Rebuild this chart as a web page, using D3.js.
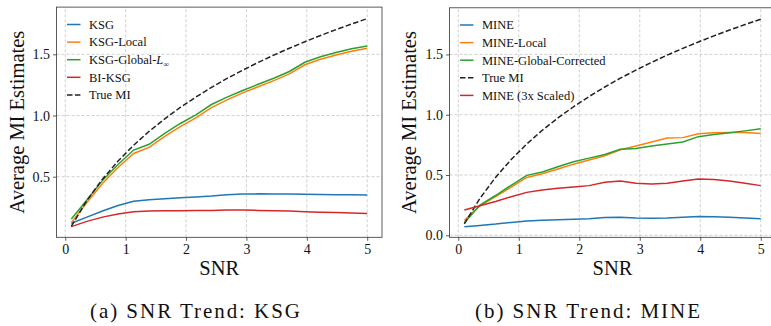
<!DOCTYPE html>
<html><head><meta charset="utf-8">
<script src="https://cdn.jsdelivr.net/npm/d3@7"></script>
<style>
html,body{margin:0;padding:0;background:#fff;}
svg{display:block;}
</style></head>
<body>
<svg id="chart" width="771" height="326"></svg>
<script>
// ---- data ----
const snr = [0.1, 0.358, 0.616, 0.874, 1.132, 1.389, 1.647, 1.905, 2.163, 2.421, 2.679, 2.937, 3.195, 3.453, 3.711, 3.968, 4.226, 4.484, 4.742, 5.0];
const trueMI = [0.095, 0.306, 0.480, 0.628, 0.757, 0.871, 0.973, 1.066, 1.151, 1.230, 1.303, 1.370, 1.434, 1.494, 1.550, 1.603, 1.654, 1.702, 1.748, 1.792];

const ksg = [0.12, 0.17, 0.22, 0.265, 0.30, 0.312, 0.32, 0.328, 0.335, 0.342, 0.352, 0.358, 0.36, 0.358, 0.358, 0.356, 0.355, 0.353, 0.352, 0.35];
const ksgLocal = [0.125, 0.29, 0.445, 0.575, 0.69, 0.74, 0.83, 0.91, 0.98, 1.065, 1.128, 1.185, 1.235, 1.285, 1.34, 1.415, 1.46, 1.495, 1.525, 1.55];
const ksgGlobal = [0.155, 0.31, 0.47, 0.60, 0.718, 0.765, 0.855, 0.935, 1.005, 1.09, 1.15, 1.205, 1.255, 1.305, 1.36, 1.435, 1.48, 1.515, 1.545, 1.568];
const biKsg = [0.092, 0.135, 0.17, 0.195, 0.213, 0.22, 0.222, 0.222, 0.223, 0.225, 0.228, 0.228, 0.225, 0.222, 0.22, 0.214, 0.21, 0.207, 0.204, 0.20];

const mine = [0.07, 0.082, 0.093, 0.107, 0.119, 0.125, 0.13, 0.133, 0.137, 0.147, 0.15, 0.144, 0.142, 0.144, 0.15, 0.156, 0.154, 0.15, 0.144, 0.137];
const mineLocal = [0.125, 0.245, 0.32, 0.40, 0.48, 0.51, 0.55, 0.59, 0.625, 0.66, 0.71, 0.74, 0.774, 0.807, 0.81, 0.842, 0.85, 0.853, 0.853, 0.845];
const mineGlobal = [0.105, 0.25, 0.33, 0.415, 0.497, 0.525, 0.569, 0.61, 0.64, 0.67, 0.713, 0.72, 0.74, 0.757, 0.774, 0.818, 0.835, 0.85, 0.866, 0.884];
const mineScaled = [0.21, 0.245, 0.28, 0.32, 0.356, 0.375, 0.39, 0.40, 0.412, 0.44, 0.45, 0.432, 0.425, 0.432, 0.45, 0.467, 0.463, 0.45, 0.432, 0.412];

const xTicks = [0, 1, 2, 3, 4, 5];
const yTicksA = [0.5, 1.0, 1.5];
const yTicksB = [0.0, 0.5, 1.0, 1.5];
const xLabel = "SNR";
const yLabel = "Average MI Estimates";

const C = {blue:"#1f77b4", orange:"#ff7f0e", green:"#2ca02c", red:"#d62728", black:"#222"};
const FONT = "'Liberation Serif'";

const svg = d3.select("#chart");

function panel(cfg){
  const x = d3.scaleLinear().domain([-0.145, 5.245]).range(cfg.xr);
  const y = d3.scaleLinear().domain(cfg.yd).range([237.3, cfg.top]);
  const g = svg.append("g");
  const [x0,x1] = cfg.xr, y0 = 237.3, y1 = cfg.top;
  // grid
  g.selectAll(".gx").data(xTicks).join("line")
    .attr("x1",d=>x(d)).attr("x2",d=>x(d)).attr("y1",y0).attr("y2",y1)
    .attr("stroke","#c4c4c4").attr("stroke-width",0.8).attr("stroke-dasharray","3,2");
  g.selectAll(".gy").data(cfg.yt).join("line")
    .attr("x1",x0).attr("x2",x1).attr("y1",d=>y(d)).attr("y2",d=>y(d))
    .attr("stroke","#c4c4c4").attr("stroke-width",0.8).attr("stroke-dasharray","3,2");
  // axes
  const xa = d3.axisBottom(x).tickValues(xTicks).tickFormat(d3.format("d")).tickSize(3.5).tickPadding(3);
  const ya = d3.axisLeft(y).tickValues(cfg.yt).tickFormat(d3.format(".1f")).tickSize(3.5).tickPadding(3);
  const gx = g.append("g").attr("transform",`translate(0,${y0})`).call(xa);
  const gy = g.append("g").attr("transform",`translate(${x0},0)`).call(ya);
  [gx,gy].forEach(a=>{
    a.attr("font-family",FONT).attr("font-size",14);
    a.select(".domain").remove();
    a.selectAll(".tick line").attr("stroke","#333").attr("stroke-width",0.8);
    a.selectAll(".tick text").attr("fill","#111").attr("font-family",FONT).attr("font-size",14);
  });
  // lines
  const line = d3.line().x((d,i)=>x(snr[i])).y(d=>y(d));
  cfg.series.forEach(s=>{
    g.append("path").datum(s.v).attr("d",line).attr("fill","none")
      .attr("stroke",s.c).attr("stroke-width",1.5)
      .attr("stroke-dasharray",s.dash?"5.5,2.4":null);
  });
  // frame
  g.append("rect").attr("x",x0).attr("y",y1).attr("width",x1-x0).attr("height",y0-y1)
    .attr("fill","none").attr("stroke","#333").attr("stroke-width",0.8);
  // legend
  cfg.legend.forEach((s,i)=>{
    const ly = cfg.ly + i*cfg.ls;
    g.append("line").attr("x1",cfg.lx).attr("x2",cfg.lx+13.5).attr("y1",ly).attr("y2",ly)
      .attr("stroke",s.c).attr("stroke-width",1.5).attr("stroke-dasharray",s.dash?"5.5,2.4":null);
    const t = g.append("text").attr("x",cfg.lx+22).attr("y",ly+4.3)
      .attr("font-family",FONT).attr("font-size",12.5).attr("fill","#111");
    if(s.sub){
      t.append("tspan").text(s.n);
      t.append("tspan").attr("font-style","italic").text("L");
      t.append("tspan").attr("dy",2.5).attr("font-size",8).text("∞");
    } else t.text(s.n);
  });
  // labels
  g.append("text").attr("x",(x0+x1)/2).attr("y",275).attr("text-anchor","middle")
    .attr("font-family",FONT).attr("font-size",20.5).attr("fill","#111").text(xLabel);
  g.append("text").attr("transform",`translate(${cfg.ylx},${(y0+y1)/2}) rotate(-90)`)
    .attr("text-anchor","middle").attr("font-family",FONT).attr("font-size",20.5)
    .attr("fill","#111").text(yLabel);
  g.append("text").attr("x",cfg.cx).attr("y",318).attr("text-anchor","middle")
    .attr("textLength",cfg.cw).attr("lengthAdjust","spacing")
    .attr("font-family",FONT).attr("font-size",21).attr("fill","#111").text(cfg.caption);
}

panel({
  xr:[56.5,382.0], yd:[0.005,1.886], top:7.1, yt:yTicksA, ylx:24, cx:195, cw:210,
  caption:"(a) SNR Trend: KSG",
  series:[{v:ksg,c:C.blue},{v:ksgLocal,c:C.orange},{v:ksgGlobal,c:C.green},{v:biKsg,c:C.red},{v:trueMI,c:C.black,dash:true}],
  legend:[{n:"KSG",c:C.blue},{n:"KSG-Local",c:C.orange},{n:"KSG-Global-",c:C.green,sub:true},{n:"BI-KSG",c:C.red},{n:"True MI",c:C.black,dash:true}],
  lx:67, ly:24.5, ls:17.6
});
panel({
  xr:[449.5,775.6], yd:[-0.0165,1.8865], top:7.8, yt:yTicksB, ylx:416, cx:587.5, cw:225,
  caption:"(b) SNR Trend: MINE",
  series:[{v:mine,c:C.blue},{v:mineLocal,c:C.orange},{v:mineGlobal,c:C.green},{v:trueMI,c:C.black,dash:true},{v:mineScaled,c:C.red}],
  legend:[{n:"MINE",c:C.blue},{n:"MINE-Local",c:C.orange},{n:"MINE-Global-Corrected",c:C.green},{n:"True MI",c:C.black,dash:true},{n:"MINE (3x Scaled)",c:C.red}],
  lx:460, ly:25, ls:17.6
});
</script>
</body></html>
